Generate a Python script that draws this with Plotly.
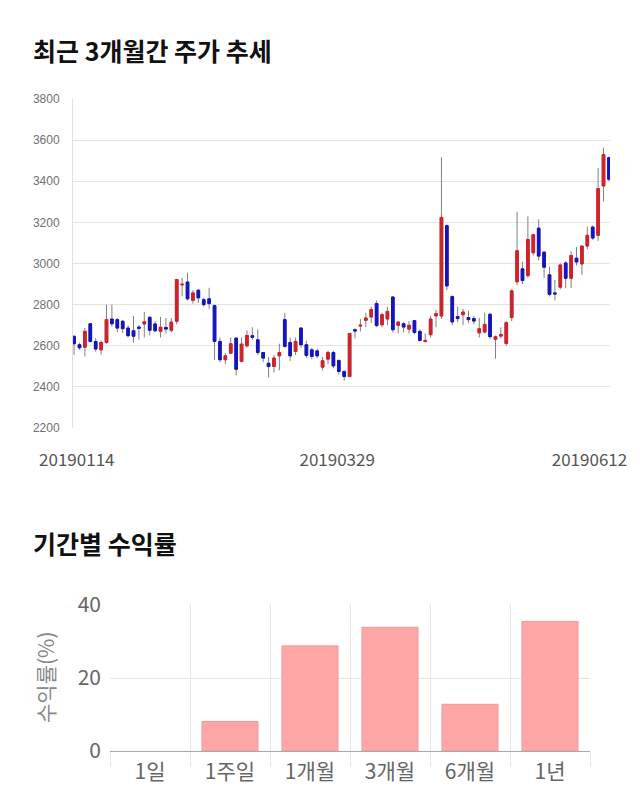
import plotly.graph_objects as go

# ---------------- data: top candlestick chart ----------------
open_ = [2646, 2605, 2593, 2707, 2621, 2580, 2616, 2730, 2727, 2719,
         2686, 2673, 2691, 2706, 2738, 2706, 2670, 2689, 2675, 2719,
         2896, 2910, 2821, 2870, 2824, 2828, 2795, 2621, 2532, 2564,
         2637, 2524, 2600, 2649, 2629, 2567, 2515, 2499, 2551, 2727,
         2616, 2572, 2686, 2605, 2580, 2575, 2496, 2535, 2567, 2528,
         2475, 2450, 2678, 2696, 2724, 2740, 2805, 2702, 2730, 2837,
         2699, 2707, 2681, 2722, 2670, 2620, 2654, 2745, 2745, 3184,
         2839, 2742, 2751, 2737, 2732, 2663, 2667, 2753, 2631, 2647,
         2611, 2737, 2911, 2974, 2941, 3052, 3172, 3055, 2945, 2857,
         2885, 3003, 2928, 3026, 2998, 3085, 3177, 3137, 3377, 3514]
high_ = [2650, 2615, 2686, 2710, 2637, 2625, 2800, 2800, 2735, 2725,
         2700, 2745, 2700, 2765, 2745, 2720, 2740, 2735, 2735, 2925,
         2930, 2955, 2870, 2875, 2835, 2882, 2800, 2640, 2565, 2640,
         2640, 2640, 2675, 2690, 2680, 2570, 2545, 2555, 2610, 2760,
         2640, 2640, 2690, 2625, 2590, 2585, 2545, 2575, 2575, 2535,
         2480, 2662, 2685, 2730, 2760, 2790, 2820, 2760, 2790, 2840,
         2720, 2715, 2720, 2725, 2680, 2660, 2745, 2775, 3517, 3190,
         2845, 2790, 2780, 2770, 2745, 2735, 2760, 2760, 2650, 2690,
         2720, 2875, 3252, 3010, 3229, 3145, 3215, 3060, 2985, 2920,
         3000, 3010, 3060, 3080, 3085, 3180, 3185, 3465, 3563, 3520]
low_ = [2556, 2580, 2548, 2615, 2572, 2556, 2610, 2694, 2665, 2662,
        2640, 2615, 2630, 2640, 2650, 2665, 2640, 2660, 2665, 2705,
        2840, 2820, 2805, 2808, 2790, 2780, 2530, 2520, 2510, 2560,
        2455, 2520, 2590, 2630, 2555, 2520, 2445, 2470, 2480, 2590,
        2525, 2555, 2590, 2540, 2535, 2540, 2480, 2510, 2490, 2460,
        2430, 2450, 2635, 2670, 2690, 2710, 2690, 2690, 2700, 2665,
        2660, 2665, 2660, 2655, 2620, 2618, 2640, 2690, 2730, 2870,
        2700, 2715, 2700, 2710, 2705, 2640, 2660, 2635, 2537, 2635,
        2600, 2720, 2895, 2900, 2930, 3040, 3015, 2930, 2840, 2820,
        2875, 2880, 2880, 2990, 2945, 3070, 3115, 3110, 3302, 3400]
close_ = [2610, 2590, 2670, 2621, 2584, 2616, 2727, 2707, 2686, 2683,
          2649, 2646, 2685, 2717, 2675, 2673, 2690, 2681, 2715, 2922,
          2899, 2828, 2857, 2833, 2800, 2805, 2621, 2532, 2551, 2610,
          2486, 2608, 2650, 2641, 2567, 2540, 2499, 2540, 2567, 2597,
          2551, 2621, 2605, 2553, 2548, 2551, 2527, 2567, 2502, 2475,
          2450, 2660, 2672, 2700, 2735, 2776, 2698, 2751, 2767, 2678,
          2715, 2691, 2699, 2665, 2626, 2626, 2730, 2756, 3224, 2891,
          2716, 2732, 2764, 2727, 2720, 2683, 2704, 2644, 2644, 2655,
          2712, 2867, 3062, 2917, 3117, 3140, 3036, 2982, 2850, 2852,
          2993, 2928, 3039, 3007, 3085, 3137, 3124, 3364, 3530, 3410]
date_tick_labels = ["20190114", "20190329", "20190612"]

# ---------------- data: bottom bar chart ----------------
periods = ["1일", "1주일", "1개월", "3개월", "6개월", "1년"]
returns = [0.0, 8.1, 28.8, 33.9, 12.8, 35.5]

# ---------------- styling ----------------
W, H = 640, 810
RED = "#d4202a"
BLUE = "#1414c4"
WICK = "#808080"
GRID = "#e4e4e4"
CJK = "Noto Sans CJK KR"

idx = list(range(len(open_)))
body_hi = [max(o, c) for o, c in zip(open_, close_)]
body_lo = [min(o, c) for o, c in zip(open_, close_)]

fig = go.Figure()
# wicks (gray)
fig.add_trace(go.Candlestick(
    x=idx, open=open_, high=high_, low=low_, close=close_,
    increasing=dict(line=dict(color=WICK, width=1), fillcolor=WICK),
    decreasing=dict(line=dict(color=WICK, width=1), fillcolor=WICK),
    hoverinfo="skip", showlegend=False, xaxis="x", yaxis="y"))
# bodies (coloured)
fig.add_trace(go.Candlestick(
    x=idx, open=open_, high=body_hi, low=body_lo, close=close_,
    increasing=dict(line=dict(color=RED, width=1), fillcolor=RED),
    decreasing=dict(line=dict(color=BLUE, width=1), fillcolor=BLUE),
    hoverinfo="skip", showlegend=False, xaxis="x", yaxis="y"))

fig.add_trace(go.Bar(
    x=periods, y=returns, xaxis="x2", yaxis="y2",
    marker=dict(color="#ffa6a6",
                line=dict(color="#f09696",
                          width=[0 if v == 0 else 1 for v in returns])),
    hoverinfo="skip", showlegend=False))

def px_x(p):
    return p / W

def px_y(p):
    return 1 - p / H

fig.update_layout(
    width=W, height=H,
    margin=dict(l=0, r=0, t=0, b=0, pad=0),
    paper_bgcolor="white", plot_bgcolor="white",
    bargap=0.3,
    xaxis=dict(
        domain=[px_x(73), px_x(610)], anchor="y", automargin=False,
        range=[-0.2, len(idx) - 0.8],
        rangeslider=dict(visible=False),
        showgrid=False, zeroline=False, showline=False,
        tickvals=[0.5, 48.7, 95.4], ticktext=date_tick_labels,
        ticks="outside", ticklen=0, ticklabelstandoff=17,
        tickfont=dict(family=CJK, size=17, color="#555555"),
    ),
    yaxis=dict(
        domain=[px_y(428), px_y(99)], anchor="x", automargin=False,
        range=[2200, 3800], dtick=200,
        showgrid=True, gridcolor=GRID, gridwidth=1,
        zeroline=False, showline=True, linecolor="#e0e0e0",
        ticks="", ticklabelstandoff=10,
        tickfont=dict(family="Liberation Sans", size=12, color="#707070"),
    ),
    xaxis2=dict(
        domain=[px_x(110), px_x(590)], anchor="y2", automargin=False,
        type="category", tickson="boundaries",
        showgrid=True, gridcolor=GRID,
        ticks="outside", ticklen=14, tickcolor=GRID,
        showline=True, linecolor="#a8a8a8",
        ticklabelstandoff=2,
        tickfont=dict(family=CJK, size=21, color="#666666"),
    ),
    yaxis2=dict(
        domain=[px_y(751), px_y(605)], anchor="x2", automargin=False,
        range=[0, 40], dtick=20,
        showgrid=True, gridcolor=GRID, zeroline=False,
        ticks="", ticklabelstandoff=8,
        tickfont=dict(family=CJK, size=21, color="#666666"),
    ),
    annotations=[
        dict(text="최근 3개월간 주가 추세", xref="paper", yref="paper",
             x=px_x(31), y=px_y(50), xanchor="left", yanchor="middle",
             showarrow=False,
             font=dict(family=CJK, size=25, color="#111111", weight="bold")),
        dict(text="기간별 수익률", xref="paper", yref="paper",
             x=px_x(31), y=px_y(543), xanchor="left", yanchor="middle",
             showarrow=False,
             font=dict(family=CJK, size=25, color="#111111", weight="bold")),
        dict(text="수익률(%)", xref="paper", yref="paper",
             x=px_x(45), y=px_y(677), xanchor="center", yanchor="middle",
             textangle=-90, showarrow=False,
             font=dict(family=CJK, size=21, color="#888888")),
    ],
)

fig.write_html("out.html")
